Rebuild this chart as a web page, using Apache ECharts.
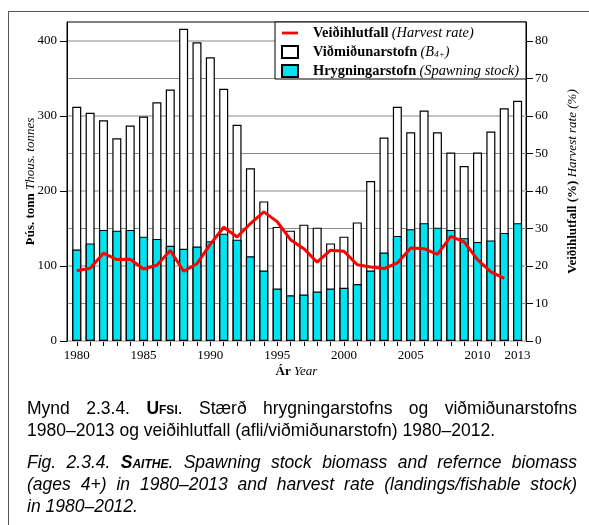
<!DOCTYPE html>
<html>
<head>
<meta charset="utf-8">
<script src="https://cdn.jsdelivr.net/npm/echarts@6/dist/echarts.min.js"></script>
<style>
html,body{margin:0;padding:0;background:#fff;}
#wrap{position:relative;width:589px;height:525px;overflow:hidden;}
#chart{position:absolute;left:0;top:0;width:589px;height:525px;}
#frame{position:absolute;left:8px;top:11px;width:700px;height:600px;border-left:1px solid #555;border-top:1px solid #555;}
.cap{position:absolute;left:27px;width:550px;font-family:'Liberation Sans',Arial,sans-serif;font-size:17.5px;line-height:22px;text-align:justify;color:#000;}
.sc{font-variant:small-caps;font-weight:bold;}
.nw{white-space:nowrap;}
</style>
</head>
<body>
<div id="wrap">
<div id="frame"></div>
<div id="chart"></div>
<div class="cap" style="top:397px;">Mynd 2.3.4. <span class="sc">Ufsi</span>. Stærð hrygningarstofns og viðmiðunarstofns <span class="nw">1980–2013</span> og veiðihlutfall (afli/viðmiðunarstofn) <span class="nw">1980–2012.</span></div>
<div class="cap" style="top:451px;font-style:italic;">Fig. 2.3.4. <span class="sc">Saithe</span>. Spawning stock biomass and refernce biomass (ages 4+) in <span class="nw">1980–2013</span> and harvest rate (landings/fishable stock) <span class="nw">in 1980–2012.</span></div>
</div>
<script>
const years = [1980,1981,1982,1983,1984,1985,1986,1987,1988,1989,1990,1991,1992,1993,1994,1995,1996,1997,1998,1999,2000,2001,2002,2003,2004,2005,2006,2007,2008,2009,2010,2011,2012,2013];
const referenceBiomass = [312,304,294,270,287,299,318,335,416,398,378,336,288,230,186,152,147,155,151,130,139,158,213,271,312,278,307,278,251,233,251,279,310,320];
const spawningStock = [122,130,148,147,148,139,136,127,123,126,133,143,135,113,94,70,61,62,66,70,71,76,94,118,140,149,157,151,148,137,132,134,144,157];
const harvestYears = [1980,1981,1982,1983,1984,1985,1986,1987,1988,1989,1990,1991,1992,1993,1994,1995,1996,1997,1998,1999,2000,2001,2002,2003,2004,2005,2006,2007,2008,2009,2010,2011,2012];
const harvestRate = [18.7,19.4,23.4,21.7,21.8,19.2,20.2,24.1,18.6,20.6,25.8,30.3,27.7,31.3,34.4,31.8,27.0,24.6,21.0,24.2,23.9,20.3,19.7,19.3,20.8,24.8,24.6,23.1,27.9,26.4,21.7,18.4,16.7];
const xLabelYears = [1980,1985,1990,1995,2000,2005,2010,2013];
const leftTicks = [0,100,200,300,400];
const rightTicks = [0,10,20,30,40,50,60,70,80];

const serif = "'Liberation Serif','Times New Roman',serif";
const richAxis = {
  b:{fontFamily:serif,fontWeight:'bold',fontSize:13,color:'#000'},
  i:{fontFamily:serif,fontStyle:'italic',fontSize:13,color:'#000'}
};
const richLegend = {
  b:{fontFamily:serif,fontWeight:'bold',fontSize:14.4,color:'#000',lineHeight:14},
  i:{fontFamily:serif,fontStyle:'italic',fontSize:14.4,color:'#000',lineHeight:14},
  s:{fontFamily:serif,fontStyle:'italic',fontSize:9,color:'#000',lineHeight:9,verticalAlign:'bottom'}
};

const chart = echarts.init(document.getElementById('chart'), null, {renderer:'canvas'});
const legendText = {
  'Veiðihlutfall':'{b|Veiðihlutfall} {i|(Harvest rate)}',
  'Viðmiðunarstofn':'{b|Viðmiðunarstofn} {i|(B}{s|4+}{i|)}',
  'Hrygningarstofn':'{b|Hrygningarstofn} {i|(Spawning stock)}'
};
chart.setOption({
  animation:false,
  backgroundColor:'transparent',
  grid:{left:67,top:22,right:63,bottom:184,show:true,borderColor:'#000',borderWidth:1,backgroundColor:'transparent'},
  legend:{
    orient:'vertical', right:63, top:22,
    data:[
      {name:'Veiðihlutfall',icon:'path://M0,0 M16,12 M0,4.6 L16,4.6 L16,7.4 L0,7.4 Z'},
      {name:'Viðmiðunarstofn',icon:'rect'},
      {name:'Hrygningarstofn',icon:'rect'}
    ],
    itemWidth:16, itemHeight:12, itemGap:5,
    backgroundColor:'#fff', borderColor:'#000', borderWidth:1,
    padding:[4,7,1,6],
    formatter:n=>legendText[n],
    textStyle:{rich:richLegend, padding:[0,0,0,10]},
    selectedMode:false
  },
  xAxis:{
    type:'value', min:1979.27, max:2013.63,
    axisLine:{lineStyle:{color:'#000',width:1}},
    axisTick:{customValues:years,length:5,lineStyle:{color:'#000'}},
    axisLabel:{customValues:xLabelYears,formatter:v=>String(v),fontFamily:serif,fontSize:13,color:'#000',margin:8},
    splitLine:{show:false},
    name:'{b|Ár} {i|Year}', nameLocation:'middle', nameGap:24, nameMoveOverlap:false,
    nameTextStyle:{rich:richAxis}
  },
  yAxis:[
    {
      type:'value', min:0, max:425, interval:100, z:1,
      axisLine:{show:true,lineStyle:{color:'#000',width:1}},
      axisTick:{customValues:leftTicks,length:7,lineStyle:{color:'#000'}},
      axisLabel:{customValues:leftTicks,fontFamily:serif,fontSize:13,color:'#000',margin:10},
      splitLine:{show:true,lineStyle:{color:'#c4c4c4',width:2}},
      name:'{b|Þús. tonn} {i|Thous. tonnes}', nameLocation:'middle', nameGap:30, nameRotate:90, nameMoveOverlap:false,
      nameTextStyle:{rich:richAxis}
    },
    {
      type:'value', min:0, max:85, interval:10, z:0, position:'right',
      axisLine:{show:true,lineStyle:{color:'#000',width:1}},
      axisTick:{customValues:rightTicks,length:7,lineStyle:{color:'#000'}},
      axisLabel:{customValues:rightTicks,fontFamily:serif,fontSize:13,color:'#000',margin:9},
      splitLine:{show:true,lineStyle:{color:'#8a8a8a',width:1}},
      name:'{b|Veiðihlutfall (%)} {i|Harvest rate (%)}', nameLocation:'middle', nameGap:40, nameRotate:90, nameMoveOverlap:false,
      nameTextStyle:{rich:richAxis}
    }
  ],
  series:[
    {
      name:'Viðmiðunarstofn', type:'bar', barWidth:9, barGap:'-100%',
      data:years.map((y,i)=>[y,referenceBiomass[i]]),
      itemStyle:{color:'#fff',borderColor:'#000',borderWidth:1.2}
    },
    {
      name:'Hrygningarstofn', type:'bar', barWidth:9, barGap:'-100%',
      data:years.map((y,i)=>[y,spawningStock[i]]),
      itemStyle:{color:'#00e3f0',borderColor:'#000',borderWidth:1.2}
    },
    {
      name:'Veiðihlutfall', type:'line', yAxisIndex:1, symbol:'none', z:5,
      data:harvestYears.map((y,i)=>[y,harvestRate[i]]),
      lineStyle:{color:'#ff0000',width:3}, itemStyle:{color:'#ff0000'}
    }
  ]
});
</script>
</body>
</html>
